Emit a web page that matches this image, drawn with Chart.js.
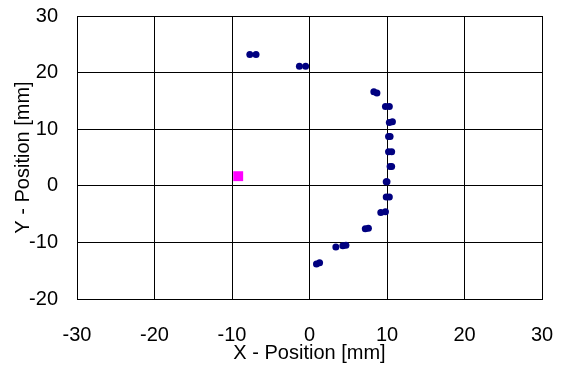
<!DOCTYPE html>
<html>
<head>
<meta charset="utf-8">
<script src="https://cdn.jsdelivr.net/npm/chart.js@4/dist/chart.umd.min.js"></script>
<style>
html,body{margin:0;padding:0;background:#fff;}
#wrap{width:561px;height:365px;}
</style>
</head>
<body>
<div id="wrap"><canvas id="c" width="561" height="365"></canvas></div>
<script>
const measuredX = [-7.7,-6.9,-1.3,-0.5,8.3,8.7,9.8,10.3,10.3,10.7,10.2,10.4,10.2,10.6,10.4,10.6,9.9,10.0,9.9,10.3,9.2,9.8,7.2,7.6,3.4,4.3,4.7,0.9,1.3];
const measuredY = [23.2,23.2,21.1,21.1,16.6,16.4,14.0,14.0,11.2,11.3,8.7,8.7,6.0,6.0,3.4,3.4,0.7,0.7,-2.0,-2.0,-4.7,-4.6,-7.6,-7.5,-10.8,-10.6,-10.5,-13.8,-13.6];
const refX = [-9.2];
const refY = [1.7];
const xTicks = [-30,-20,-10,0,10,20,30];
const yTicks = [-20,-10,0,10,20,30];
const xTitle = 'X - Position [mm]';
const yTitle = 'Y - Position [mm]';

const font = {family: "'Liberation Sans', Arial, sans-serif", size: 20};

new Chart(document.getElementById('c'), {
  type: 'scatter',
  data: {
    datasets: [
      {
        data: measuredX.map((x,i)=>({x:x,y:measuredY[i]})),
        backgroundColor: '#000080', borderColor: '#000080',
        pointRadius: 3.5, pointBorderWidth: 0, pointStyle: 'circle'
      },
      {
        data: refX.map((x,i)=>({x:x,y:refY[i]})),
        backgroundColor: '#FF00FF', borderColor: '#FF00FF',
        pointRadius: 7, pointBorderWidth: 0, pointStyle: 'rect'
      }
    ]
  },
  options: {
    responsive: false,
    animation: false,
    layout: {padding: {left: 0, right: 19, top: 16, bottom: 0}},
    plugins: {legend: {display: false}, tooltip: {enabled: false}},
    scales: {
      x: {
        type: 'linear', min: -30, max: 30,
        afterBuildTicks: s => { s.ticks = xTicks.map(v=>({value:v})); },
        afterFit: s => { s.height = 66; s.paddingLeft = 0; s.paddingRight = 0; },
        grid: {color: '#000', lineWidth: 1, drawTicks: false},
        border: {color: '#000', width: 1},
        ticks: {color: '#000', font: font, padding: 24, maxRotation: 0},
        title: {display: true, text: xTitle, color: '#000', font: font, padding: {top: 0, bottom: 0}}
      },
      y: {
        type: 'linear', min: -20, max: 30,
        afterBuildTicks: s => { s.ticks = yTicks.map(v=>({value:v})); },
        afterFit: s => { s.width = 77; s.paddingTop = 0; s.paddingBottom = 0; },
        grid: {color: '#000', lineWidth: 1, drawTicks: false},
        border: {color: '#000', width: 1},
        ticks: {color: '#000', font: font, padding: 19},
        title: {display: true, text: yTitle, color: '#000', font: font, padding: {top: 11, bottom: 0}}
      }
    }
  },
  plugins: [{
    id: 'frame',
    afterDraw(chart) {
      const a = chart.chartArea, ctx = chart.ctx;
      ctx.save();
      ctx.strokeStyle = '#000'; ctx.lineWidth = 1;
      ctx.strokeRect(Math.round(a.left)+0.5, Math.round(a.top)+0.5, Math.round(a.right-a.left), Math.round(a.bottom-a.top));
      ctx.restore();
    }
  }]
});
</script>
</body>
</html>
